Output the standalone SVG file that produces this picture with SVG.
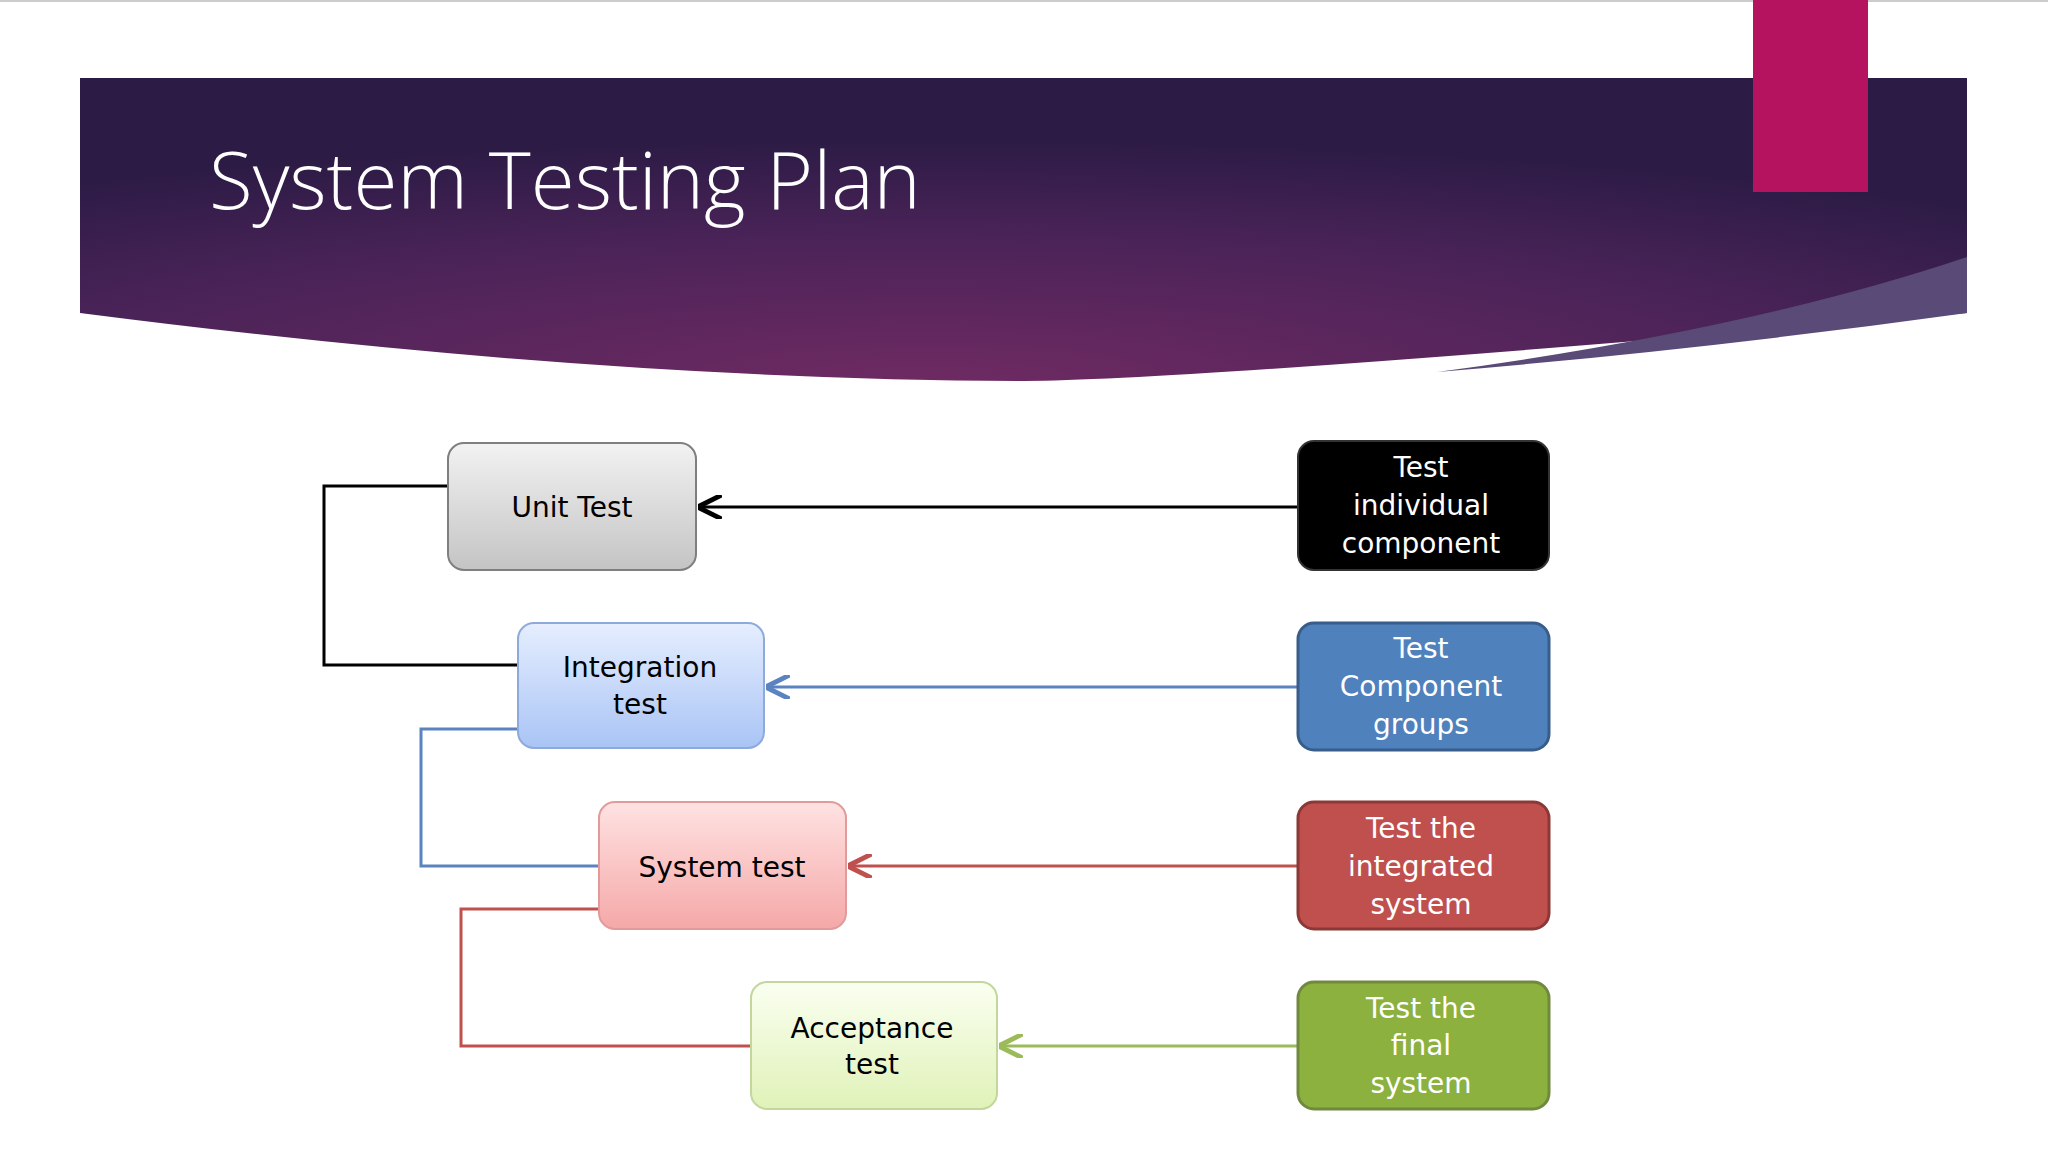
<svg xmlns="http://www.w3.org/2000/svg" width="2048" height="1152" viewBox="0 0 2048 1152">
<defs>
<radialGradient id="hdr" cx="0.45" cy="1" r="0.8">
<stop offset="0" stop-color="#6e2a62"/><stop offset="0.6" stop-color="#4a2358"/><stop offset="1" stop-color="#2c1b45"/>
</radialGradient>
<linearGradient id="g1" x1="0" y1="0" x2="0" y2="1"><stop offset="0" stop-color="#f2f2f2"/><stop offset="1" stop-color="#c4c4c4"/></linearGradient>
<linearGradient id="g2" x1="0" y1="0" x2="0" y2="1"><stop offset="0" stop-color="#e6eeff"/><stop offset="1" stop-color="#a9c4f5"/></linearGradient>
<linearGradient id="g3" x1="0" y1="0" x2="0" y2="1"><stop offset="0" stop-color="#ffe2e2"/><stop offset="1" stop-color="#f5a8a8"/></linearGradient>
<linearGradient id="g4" x1="0" y1="0" x2="0" y2="1"><stop offset="0" stop-color="#fafff0"/><stop offset="1" stop-color="#e0f2b8"/></linearGradient>
<marker id="ak" viewBox="0 0 10 10" refX="9" refY="5" markerWidth="8" markerHeight="8" orient="auto"><path d="M10,5 L0,0 M10,5 L0,10" stroke="#000" stroke-width="2" fill="none"/></marker>
<marker id="ab" viewBox="0 0 10 10" refX="9" refY="5" markerWidth="8" markerHeight="8" orient="auto"><path d="M10,5 L0,0 M10,5 L0,10" stroke="#5b83c0" stroke-width="2" fill="none"/></marker>
<marker id="ar" viewBox="0 0 10 10" refX="9" refY="5" markerWidth="8" markerHeight="8" orient="auto"><path d="M10,5 L0,0 M10,5 L0,10" stroke="#c0504d" stroke-width="2" fill="none"/></marker>
<marker id="ag" viewBox="0 0 10 10" refX="9" refY="5" markerWidth="8" markerHeight="8" orient="auto"><path d="M10,5 L0,0 M10,5 L0,10" stroke="#9bbb59" stroke-width="2" fill="none"/></marker>
</defs>
<style>
.t{font-family:"DejaVu Sans",sans-serif;font-size:28px;text-anchor:middle}
.w{fill:#fff}
.c{fill:none;stroke-width:3}
</style>
<rect width="2048" height="1152" fill="#fff"/>
<line x1="0" y1="1" x2="2048" y2="1" stroke="#ccc" stroke-width="2"/>
<path d="M80,78 H1967 V313 Q1200,380 1024,381 Q600,380 80,313 Z" fill="url(#hdr)"/>
<path d="M1437,372 Q1750,330 1967,257 V313 Q1700,350 1437,372 Z" fill="#5a4a78"/>
<rect x="1753" y="0" width="115" height="192" fill="#b5135f"/>
<text x="209" y="209" font-family="'Open Sans',sans-serif" font-weight="300" font-size="80" fill="#fff">System Testing Plan</text>
<g id="connectors">
<line class="c" x1="1298" y1="507" x2="700" y2="507" stroke="#000" marker-end="url(#ak)"/>
<line class="c" x1="1298" y1="687" x2="768" y2="687" stroke="#5b83c0" marker-end="url(#ab)"/>
<line class="c" x1="1298" y1="866" x2="850" y2="866" stroke="#c0504d" marker-end="url(#ar)"/>
<line class="c" x1="1298" y1="1046" x2="1001" y2="1046" stroke="#9bbb59" marker-end="url(#ag)"/>
<path class="c" d="M448,486 H324 V665 H518" stroke="#000"/>
<path class="c" d="M518,729 H421 V866 H599" stroke="#5b83c0"/>
<path class="c" d="M599,909 H461 V1046 H751" stroke="#c0504d"/>
</g>
<g id="unit"><rect x="448" y="443" width="248" height="127" rx="16" fill="url(#g1)" stroke="#7f7f7f" stroke-width="2"/><text class="t" x="572" y="517">Unit Test</text></g>
<g id="integration"><rect x="518" y="623" width="246" height="125" rx="16" fill="url(#g2)" stroke="#8eaadb" stroke-width="2"/><text class="t" x="640" y="677">Integration</text><text class="t" x="640" y="714">test</text></g>
<g id="system"><rect x="599" y="802" width="247" height="127" rx="16" fill="url(#g3)" stroke="#e39a9a" stroke-width="2"/><text class="t" x="722" y="877">System test</text></g>
<g id="acceptance"><rect x="751" y="982" width="246" height="127" rx="16" fill="url(#g4)" stroke="#c3d69b" stroke-width="2"/><text class="t" x="872" y="1038">Acceptance</text><text class="t" x="872" y="1074">test</text></g>
<g id="r1"><rect x="1298" y="441" width="251" height="129" rx="16" fill="#000" stroke="#333" stroke-width="2"/><text class="t w" x="1421" y="477">Test</text><text class="t w" x="1421" y="515">individual</text><text class="t w" x="1421" y="553">component</text></g>
<g id="r2"><rect x="1298" y="623" width="251" height="127" rx="16" fill="#4f81bd" stroke="#385d8a" stroke-width="3"/><text class="t w" x="1421" y="658">Test</text><text class="t w" x="1421" y="696">Component</text><text class="t w" x="1421" y="734">groups</text></g>
<g id="r3"><rect x="1298" y="802" width="251" height="127" rx="16" fill="#c0504d" stroke="#8c3836" stroke-width="3"/><text class="t w" x="1421" y="838">Test the</text><text class="t w" x="1421" y="876">integrated</text><text class="t w" x="1421" y="914">system</text></g>
<g id="r4"><rect x="1298" y="982" width="251" height="127" rx="16" fill="#8cb13f" stroke="#71893f" stroke-width="3"/><text class="t w" x="1421" y="1018">Test the</text><text class="t w" x="1421" y="1055">final</text><text class="t w" x="1421" y="1093">system</text></g>
</svg>
